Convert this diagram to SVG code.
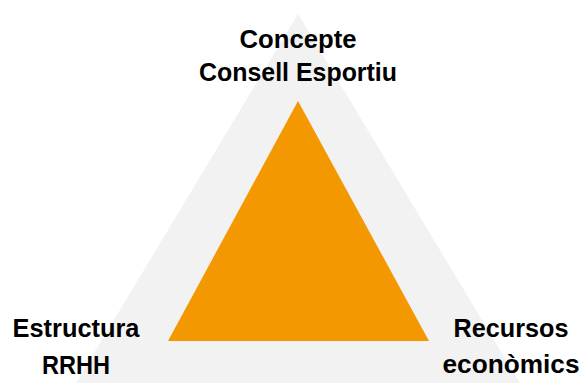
<svg xmlns="http://www.w3.org/2000/svg" width="581" height="383" viewBox="0 0 581 383">
<style>
.lbl{font-family:"Liberation Sans",Arial,sans-serif;font-weight:bold;font-size:26px;fill:#000;text-anchor:middle}
</style>
<rect width="581" height="383" fill="#fff"/>
<g id="background">
<polygon points="298,14 76,383 520,383" fill="#F2F2F2"/>
</g>
<g id="core">
<polygon points="298,101 168,341 429,341" fill="#F39800"/>
</g>
<g id="connectors"></g>
<g id="node-concepte">
<text class="lbl" x="298" y="48" textLength="117" lengthAdjust="spacingAndGlyphs">Concepte</text>
<text class="lbl" x="298" y="81" textLength="198" lengthAdjust="spacingAndGlyphs">Consell Esportiu</text>
</g>
<g id="node-estructura">
<text class="lbl" x="76" y="337" textLength="127" lengthAdjust="spacingAndGlyphs">Estructura</text>
<text class="lbl" x="76" y="374" textLength="68" lengthAdjust="spacingAndGlyphs">RRHH</text>
</g>
<g id="node-recursos">
<text class="lbl" x="511" y="337" textLength="115" lengthAdjust="spacingAndGlyphs">Recursos</text>
<text class="lbl" x="511" y="373" textLength="137" lengthAdjust="spacingAndGlyphs">econòmics</text>
</g>
</svg>
